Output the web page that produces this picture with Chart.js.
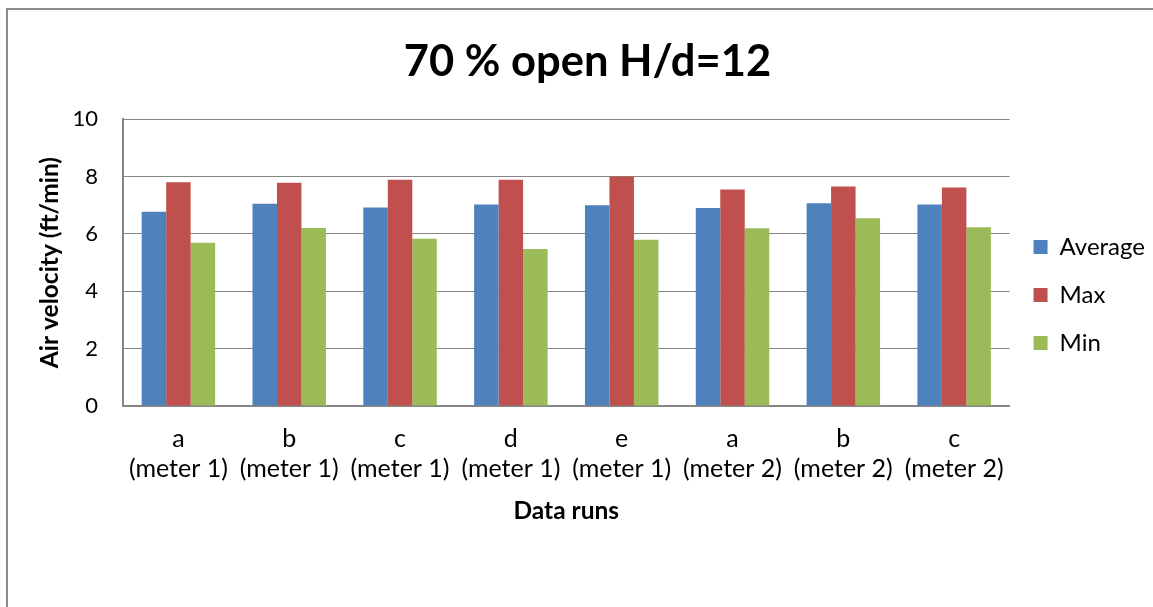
<!DOCTYPE html>
<html>
<head>
<meta charset="utf-8">
<script src="https://cdn.jsdelivr.net/npm/chart.js@4/dist/chart.umd.min.js"></script>
<style>
html,body{margin:0;padding:0;background:#fff;overflow:hidden;}
#wrap{position:absolute;left:0;top:0;width:1153px;height:607px;}
</style>
</head>
<body>
<div id="wrap"><canvas id="c" width="1153" height="607"></canvas></div>
<script>
const runLabels = [['a','(meter 1)'],['b','(meter 1)'],['c','(meter 1)'],['d','(meter 1)'],['e','(meter 1)'],['a','(meter 2)'],['b','(meter 2)'],['c','(meter 2)']];
const averageValues = [6.77, 7.05, 6.92, 7.03, 7.00, 6.90, 7.07, 7.03];
const maxValues = [7.80, 7.78, 7.89, 7.89, 8.00, 7.55, 7.65, 7.62];
const minValues = [5.69, 6.21, 5.83, 5.47, 5.80, 6.20, 6.55, 6.23];
const yTicks = [0, 2, 4, 6, 8, 10];

const FONT = "Lato, 'Open Sans', sans-serif";
const GRID = '#868686';

const frame = {
  id: 'frame',
  beforeDraw(chart) {
    const ctx = chart.ctx;
    ctx.save();
    ctx.strokeStyle = '#8c8c8c';
    ctx.lineWidth = 2;
    ctx.strokeRect(7, 9, 1160, 620);
    ctx.restore();
  }
};

new Chart(document.getElementById('c'), {
  type: 'bar',
  data: {
    labels: runLabels,
    datasets: [
      {label: 'Average', data: averageValues, backgroundColor: '#4F81BD'},
      {label: 'Max', data: maxValues, backgroundColor: '#C0504D'},
      {label: 'Min', data: minValues, backgroundColor: '#9BBB59'}
    ]
  },
  options: {
    responsive: false,
    animation: false,
    devicePixelRatio: 1,
    layout: {padding: {top: 0, bottom: 17, left: 20, right: -2}},
    datasets: {bar: {categoryPercentage: 0.663, barPercentage: 1.0, borderWidth: 0}},
    scales: {
      x: {
        grid: {display: false, drawTicks: false},
        border: {display: true, color: GRID, width: 2},
        ticks: {color: '#000', font: {family: FONT, size: 25, lineHeight: 1.2}, padding: 18, maxRotation: 0, autoSkip: false},
        title: {display: true, text: 'Data runs', color: '#000', font: {family: FONT, size: 24.5, weight: 'bold'}, padding: {top: -6, bottom: 64.6}}
      },
      y: {
        min: 0, max: 10,
        afterBuildTicks(scale) { scale.ticks = yTicks.map(v => ({value: v})); },
        afterFit(scale) { scale.width = 103; },
        grid: {color: GRID, lineWidth: 1, drawTicks: false},
        border: {display: true, color: GRID, width: 2},
        ticks: {color: '#000', font: {family: FONT, size: 22}, padding: 25},
        title: {display: true, text: 'Air velocity (ft/min)', color: '#000', font: {family: FONT, size: 24.5, weight: 'bold'}, padding: {top: 15, bottom: 8}}
      }
    },
    plugins: {
      title: {display: true, text: '70 % open H/d=12', color: '#000', font: {family: FONT, size: 43.5, weight: 'bold'}, padding: {top: 36, bottom: 31}},
      legend: {
        position: 'right',
        labels: {boxWidth: 14, boxHeight: 14, padding: 24, color: '#000', font: {family: FONT, size: 24}}
      },
      tooltip: {enabled: false}
    }
  },
  plugins: [frame]
});
</script>
</body>
</html>
